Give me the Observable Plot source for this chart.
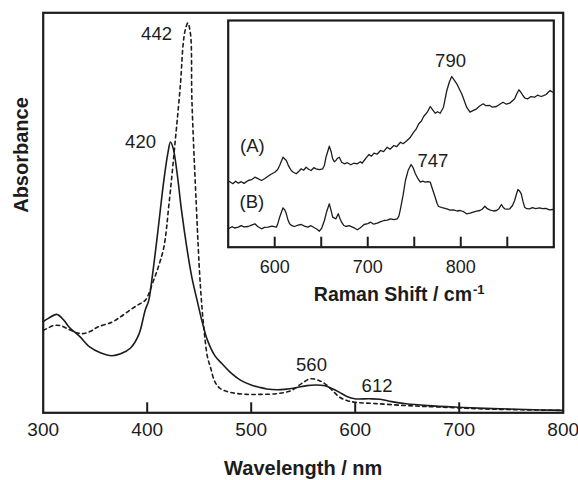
<!DOCTYPE html>
<html><head><meta charset="utf-8">
<script src="https://cdn.jsdelivr.net/npm/d3@7"></script>
<script src="https://cdn.jsdelivr.net/npm/@observablehq/plot@0.6"></script>
<style>
body{margin:0;background:#fff;}
#wrap{position:relative;width:578px;height:480px;overflow:hidden;}
#wrap svg{position:absolute;overflow:visible;}
</style></head><body><div id="wrap"></div>
<script>
// ---- main absorption spectra ----
const mainTicks = [400, 500, 600, 700];
const mainTickLabels = [300, 400, 500, 600, 700, 800];
const wlSolid = [300,305,313,320,325,335,345,355,366,375,384,392,398,401.5,405,410,416,420,422.4,425,428.8,433,438.5,443,448,453,458,465,472,480,490,500,507.6,515,525,535,543,553.5,562,571,578,585,592,599.5,613.6,624,635,649,670,698.5,725,755,780,800];
const absSolid = [0.228,0.236,0.246,0.231,0.214,0.191,0.164,0.150,0.1425,0.148,0.162,0.196,0.256,0.281,0.343,0.448,0.581,0.651,0.677,0.661,0.598,0.506,0.406,0.338,0.281,0.226,0.181,0.143,0.1225,0.101,0.081,0.0695,0.064,0.0595,0.0575,0.0595,0.0625,0.068,0.0695,0.0675,0.060,0.051,0.041,0.035,0.035,0.034,0.028,0.0225,0.018,0.014,0.011,0.009,0.007,0.006];
const wlDashed = [300,304,310,316.6,325,336,345,352,366,375,384,392,398,401.5,405,409.6,416,420.8,427,432,434.6,436.5,439,441.6,443,447,451,454.4,458,460.8,465,470,480,496,507.6,525,539,550,557,565,571,578,585,592,599.5,620,649,680,720,760,800];
const absDashed = [0.206,0.211,0.218,0.218,0.208,0.198,0.203,0.214,0.2265,0.241,0.258,0.271,0.281,0.2975,0.323,0.356,0.414,0.518,0.681,0.823,0.9225,0.956,0.9745,0.948,0.781,0.531,0.323,0.214,0.139,0.114,0.078,0.061,0.051,0.046,0.046,0.048,0.056,0.076,0.085,0.081,0.0725,0.056,0.039,0.031,0.0265,0.023,0.018,0.0145,0.010,0.0075,0.006];
const peakText = ["442", "420", "560", "612"];
const peakX = [409, 393.6, 558, 621];
const peakY = [0.946, 0.677, 0.1195, 0.068];

// ---- inset Raman spectra ----
const ramanTicks = [600, 650, 700, 750, 800, 850];
const ramanTickLabels = [600, 700, 800];
const shiftA = [551.3,555,558,560.9,564,567,571.5,575,578.7,582,585.8,589,592.9,596,600,603,605.3,608.9,612.5,615,617.8,620,623.1,626,628.5,631,633.8,636.5,639.1,642,644.5,648,651.6,653.5,655.1,658.7,660.5,662.3,664,665.8,667.5,669.4,672,674.7,678,681.8,685,688.9,692,694,696.1,698.5,701.4,704,706.7,710,713.8,717,721,724,728.1,731,735.2,738,742.3,745.9,749.4,752,754.8,757.5,760.1,764,767.2,770,772.5,775,777.9,781.4,785,788,790.3,793,795.7,798,801,804,806.3,809.9,813,817,820,824.1,827,831.2,834,838.4,842,845.5,849,852.6,855,857.9,860,862.5,864.5,866.8,869,872.1,875,879.3,882.5,886.4,889,891.7,894,896,898.8];
const intA = [65.7,63.5,66,64.0,65.5,63.8,66.7,67.5,70.0,68.5,66.7,68.5,71.0,73,75.0,77.5,81.7,90.0,86.7,81,76.7,75,73.4,76,78.4,77,80.0,78,76.7,79.5,78.4,77.5,78.4,82,90.0,101.0,96,88.4,85.5,86.7,89,90.0,85,83.4,84.5,82.4,84,83.4,85.5,84,86.7,89.5,92.7,91,94.0,93,96.7,95.5,100.0,98,101.7,100.5,105.0,103.5,106.7,110.0,115.0,118,123.4,126,130.7,135,140.7,137,134.0,135.5,134.0,140.0,156.7,166,170.7,167,163.4,159,153.4,146,140.0,135.0,136.5,138.4,141,143.4,141.5,141.7,140,140.7,143,145.0,143,144.0,146,148.4,153,157.4,155,151.7,149,148.4,150.5,150.0,152,150.7,151.5,152.7,155,156.7,155.0];
const shiftB = [551.3,554,557,560.9,564,567,571.5,575,578.7,582,585.8,589,592.9,597,601.8,603.5,605.3,608.9,611,612.5,614,616,618.5,621.3,625,628.5,632,635.6,639,642.7,645.5,648,650.5,653.4,656,658.7,660.5,662.3,665.8,668.3,670,671.9,674,676.5,680,683.6,686,688.9,692,694,696.1,700,703.2,706.5,710.3,714,717.4,721,724.5,728,731.6,733.5,735.2,738,740.5,743.5,746.6,749,751.2,754,756.5,759,761.9,764.5,767.2,770,772.5,774.5,776.1,780,785,788.5,792.1,796,799.2,803,806.3,810,813.4,817,820.6,823,825.9,828.5,831.2,835,838.4,841,843.7,845.5,847.2,850,852.6,855.5,857.9,859.8,861.5,863.3,865,866.8,868.6,871,873.9,877,880.5,884.6,888,891.5,895.3,898.8];
const intB = [19.0,20.5,19.2,20.0,21.5,20.3,20.7,22,23.4,20.5,18.4,19.8,20.0,21,20.0,24,30.0,39.4,37,33.4,28,23.4,21.5,20.7,22,22.7,21,20.0,21.5,19.4,18,16.0,19,26.7,36,43.4,37,30.0,28.4,33.4,29,25.0,22,20.7,21.5,20.0,19,17.4,19.5,21,22.7,23.5,25.0,23,24.0,25.5,26.7,27,28.4,27.5,28.4,31,38.4,52,66.7,77,82.7,79,73.4,68.5,65.0,66,65.0,65.5,65.0,57,50.0,44,40.7,39.5,38.4,37,37.4,36.2,36.7,35.5,33.4,34,35.0,36,36.7,38,41.0,38.5,37.4,36.2,36.7,38.5,42.7,40,38.4,38,38.4,41.5,46.7,53,57.7,56,53.4,46,40.0,38.5,38.4,39.5,38.6,39.4,38.5,38.8,37.4,37.7];
const insetText = ["(A)", "(B)", "790", "747"];
const insetX = [576, 575.5, 789, 770];
const insetY = [100.7, 44.7, 185.7, 85.7];

const FONT = "'Liberation Sans', Arial, Helvetica, sans-serif";
const INK = "#1c1c1c";
const solid = wlSolid.map((w, i) => ({w, a: absSolid[i]}));
const dashed = wlDashed.map((w, i) => ({w, a: absDashed[i]}));
const peaks = peakText.map((t, i) => ({t, x: peakX[i], y: peakY[i]}));

const W = 578, H = 480;
const mL = 42.7, mR = 15.3, mT = 12.3, mB = 67.7;
const innerH = H - mT - mB;

const main = Plot.plot({
  width: W, height: H,
  marginLeft: mL, marginRight: mR, marginTop: mT, marginBottom: mB,
  style: {fontFamily: FONT, background: "white", color: INK},
  x: {domain: [300, 800]},
  y: {domain: [0, 1], axis: null},
  marks: [
    Plot.line(solid, {x: "w", y: "a", curve: "catmull-rom", stroke: INK, strokeWidth: 1.6}),
    Plot.line(dashed, {x: "w", y: "a", curve: "catmull-rom", stroke: INK, strokeWidth: 1.6, strokeDasharray: "3.5,3.5"}),
    Plot.tickX(mainTicks, {x: d => d, insetTop: innerH - 10, stroke: INK, strokeWidth: 2}),
    Plot.frame({stroke: INK, strokeWidth: 2.2}),
    Plot.axisX(mainTickLabels, {anchor: "bottom", tickSize: 0, tickPadding: 10, fontSize: 19, label: null}),
    Plot.text(peaks, {x: "x", y: "y", text: "t", fontSize: 18.5, fill: INK}),
    Plot.text(["Wavelength / nm"], {text: d => d, frameAnchor: "bottom", lineAnchor: "bottom", dy: 62, fontSize: 20, fontWeight: "bold", fill: INK}),
    Plot.text(["Absorbance"], {text: d => d, frameAnchor: "left", dx: -21.2, rotate: -90, fontSize: 20, fontWeight: "bold", fill: INK})
  ]
});
main.style.left = "0px"; main.style.top = "0px";

// ---- inset ----
const rA = shiftA.map((s, i) => ({s, v: intA[i]}));
const rB = shiftB.map((s, i) => ({s, v: intB[i]}));
const ins = insetText.map((t, i) => ({t, x: insetX[i], y: insetY[i]}));
const iW = 378, iH = 320;
const iL = 27.7, iR = 24.7, iT = 20, iB = 73.3;
const iInnerH = iH - iT - iB;

const inset = Plot.plot({
  width: iW, height: iH,
  marginLeft: iL, marginRight: iR, marginTop: iT, marginBottom: iB,
  style: {fontFamily: FONT, background: "transparent", color: INK, overflow: "visible"},
  x: {domain: [550, 900]},
  y: {domain: [0, iInnerH], axis: null},
  marks: [
    Plot.frame({fill: "white", stroke: null}),
    Plot.line(rA, {x: "s", y: "v", stroke: INK, strokeWidth: 1.3}),
    Plot.line(rB, {x: "s", y: "v", stroke: INK, strokeWidth: 1.3}),
    Plot.tickX(ramanTicks, {x: d => d, insetTop: iInnerH - 10, stroke: INK, strokeWidth: 2}),
    Plot.frame({stroke: INK, strokeWidth: 2.2}),
    Plot.axisX(ramanTickLabels, {anchor: "bottom", tickSize: 0, tickPadding: 13, fontSize: 18, label: null}),
    Plot.text(ins, {x: "x", y: "y", text: "t", fontSize: 18.5, fill: INK}),
    Plot.text(["Raman Shift / cm"], {text: d => d, frameAnchor: "bottom", lineAnchor: "bottom", textAnchor: "end", dx: 81, dy: 53.6, fontSize: 19.5, fontWeight: "bold", fill: INK}),
    Plot.text(["-1"], {text: d => d, frameAnchor: "bottom", lineAnchor: "bottom", textAnchor: "start", dx: 82, dy: 46.5, fontSize: 13, fontWeight: "bold", fill: INK})
  ]
});
inset.style.left = "200px"; inset.style.top = "0px";

const wrap = document.getElementById("wrap");
wrap.appendChild(main);
wrap.appendChild(inset);
</script></body></html>
